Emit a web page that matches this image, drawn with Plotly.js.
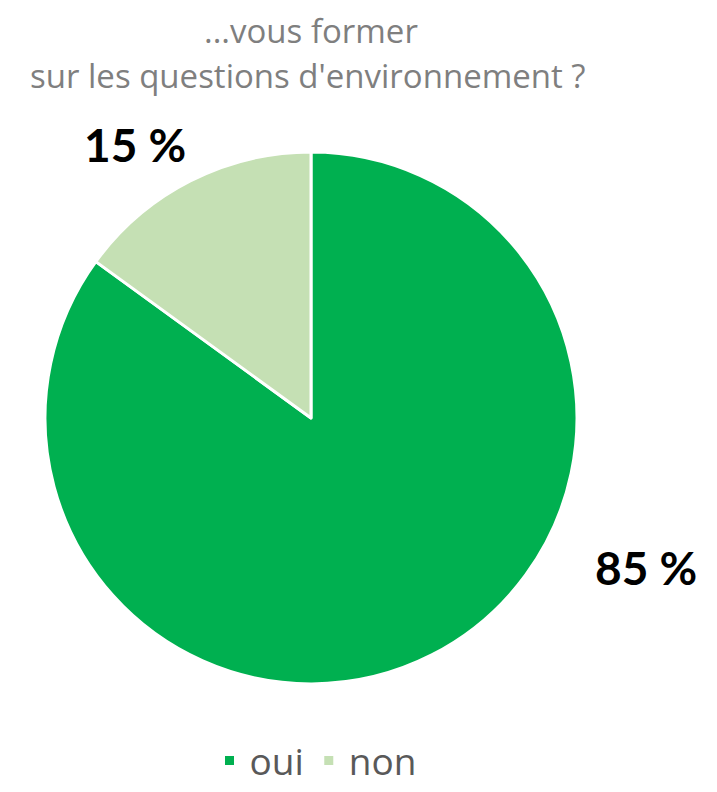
<!DOCTYPE html>
<html>
<head>
<meta charset="utf-8">
<script src="https://cdn.plot.ly/plotly-3.0.1.min.js"></script>
<style>html,body{margin:0;padding:0;background:#fff;}#chart{width:717px;height:792px;}</style>
</head>
<body>
<div id="chart"></div>
<script>
const categories = ["oui", "non"];
const values = [85, 15];
const colors = ["#00B050", "#C5E0B4"];
const titleLines = ["...vous former", "sur les questions d'environnement ?"];

const total = values.reduce((a, b) => a + b, 0);
const labelPos = [{x: 0.901, y: 0.283}, {x: 0.188, y: 0.817}];
const titlePos = [{x: 0.434, y: 0.962}, {x: 0.430, y: 0.905}];

const trace = {
  type: "pie",
  labels: categories,
  values: values,
  sort: false,
  direction: "clockwise",
  rotation: 0,
  marker: {colors: colors, line: {color: "#ffffff", width: 3}},
  textinfo: "none",
  hoverinfo: "label+percent",
  domain: {x: [0.0628, 0.8047], y: [0.1364, 0.8081]}
};

const annotations = categories.map((c, i) => ({
  xref: "paper", yref: "paper",
  x: labelPos[i].x, y: labelPos[i].y,
  xanchor: "center", yanchor: "middle",
  showarrow: false,
  text: "<b>" + Math.round(values[i] / total * 100) + " %</b>",
  font: {family: "Lato, 'DejaVu Sans', sans-serif", size: 46, color: "#000000"}
})).concat(titleLines.map((t, i) => ({
  xref: "paper", yref: "paper",
  x: titlePos[i].x, y: titlePos[i].y,
  xanchor: "center", yanchor: "middle",
  showarrow: false,
  text: t,
  font: {family: "'Open Sans', sans-serif", size: 33, color: "#7F7F7F"}
})));

const layout = {
  width: 717, height: 792,
  margin: {l: 0, r: 0, t: 0, b: 0},
  paper_bgcolor: "#ffffff",
  showlegend: true,
  legend: {
    orientation: "h",
    x: 0.44, xanchor: "center",
    y: 0.0, yanchor: "bottom",
    font: {family: "'Open Sans', sans-serif", size: 37, color: "#595959"},
    itemwidth: 30,
    traceorder: "normal"
  },
  annotations: annotations
};

Plotly.newPlot("chart", [trace], layout, {displayModeBar: false, staticPlot: true});
</script>
</body>
</html>
